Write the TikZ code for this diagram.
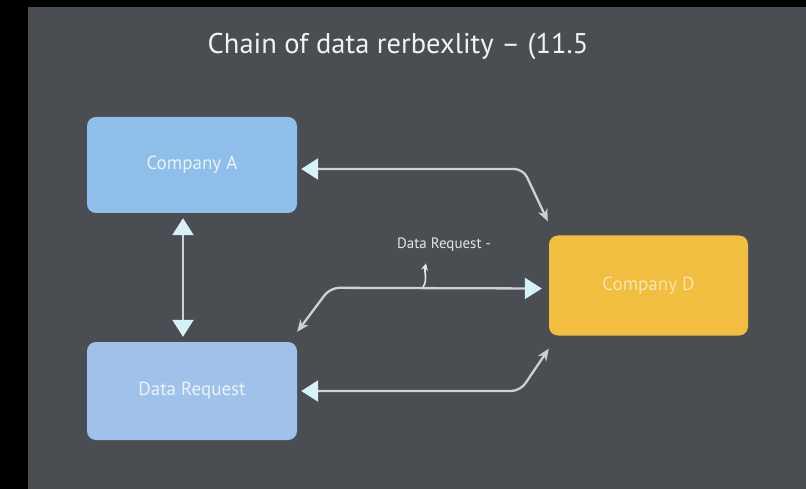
\documentclass[tikz,border=0pt]{standalone}
\usepackage{fontspec}
\setmainfont{PT Sans}
\usetikzlibrary{arrows.meta,calc}
\definecolor{backgr}{HTML}{4A4E52}
\definecolor{boxa}{HTML}{8EBEE9}
\definecolor{boxreq}{HTML}{A0C1E9}
\definecolor{boxd}{HTML}{F2BE3F}
\definecolor{linegr}{HTML}{CDD1D5}
\definecolor{tipcy}{HTML}{D6F2F8}
\definecolor{txtblue}{HTML}{E9F4FA}
\definecolor{txtyel}{HTML}{F8E6B0}
\tikzset{
  compbox/.style={rounded corners=9pt, inner sep=0pt, font=\fontsize{19}{22}\selectfont},
  bigtip/.tip={Triangle[width=21pt,length=17pt,color=tipcy]},
  smalltip/.tip={Stealth[width=10pt,length=12pt,color=linegr]},
  link/.style={draw=linegr, line width=2.3pt, rounded corners=9pt},
}
\begin{document}
\begin{tikzpicture}[x=1pt,y=-1pt]
    % frame and background
    \fill[black] (0,0) rectangle (806,489);
    \fill[backgr] (28,7) rectangle (806,489);
    \node[text=white!95!black, font=\fontsize{28.5}{32}\selectfont] (title) at (398,46) {Chain of data rerbexlity -- (11.5};
    % boxes
    \node[compbox, fill=boxa, text=txtblue, minimum width=210pt, minimum height=96pt] (a) at (192,165) {Company A};
    \node[compbox, fill=boxreq, text=txtblue, minimum width=210pt, minimum height=98pt] (req) at (192,391) {Data Request};
    \node[compbox, fill=boxd, text=txtyel, minimum width=199pt, minimum height=100pt] (d) at (648.5,285.5) {Company D};
    \node[text=white!90!black, font=\fontsize{15}{17}\selectfont] (lbl) at (444,245) {Data Request -};
    % connectors
    \draw[link, bigtip-smalltip] ([xshift=4pt,yshift=-4pt]a.east) -- ++(222,0) -- ([xshift=-1pt,yshift=14pt]d.north west);
    \draw[link, smalltip-bigtip] ([yshift=10pt]req.north east) -- ++(33,-44) -- ([xshift=-7pt,yshift=-3pt]d.west);
    \draw[link, bigtip-smalltip] ([xshift=4pt]req.east) -- ++(219,0) -- ([yshift=-13pt]d.south west);
    \draw[link, bigtip-bigtip] ([xshift=-9pt,yshift=-5pt]a.south) -- ([xshift=-9pt,yshift=5pt]req.north);
    \coordinate (fork) at (423,287);
    \draw[draw=white!90!black, line width=1.6pt, -{Stealth[length=7pt,width=7pt]}] (fork) .. controls (428,280) and (424,272) .. ([xshift=-18pt,yshift=-8pt]lbl.south);
\end{tikzpicture}
\end{document}
